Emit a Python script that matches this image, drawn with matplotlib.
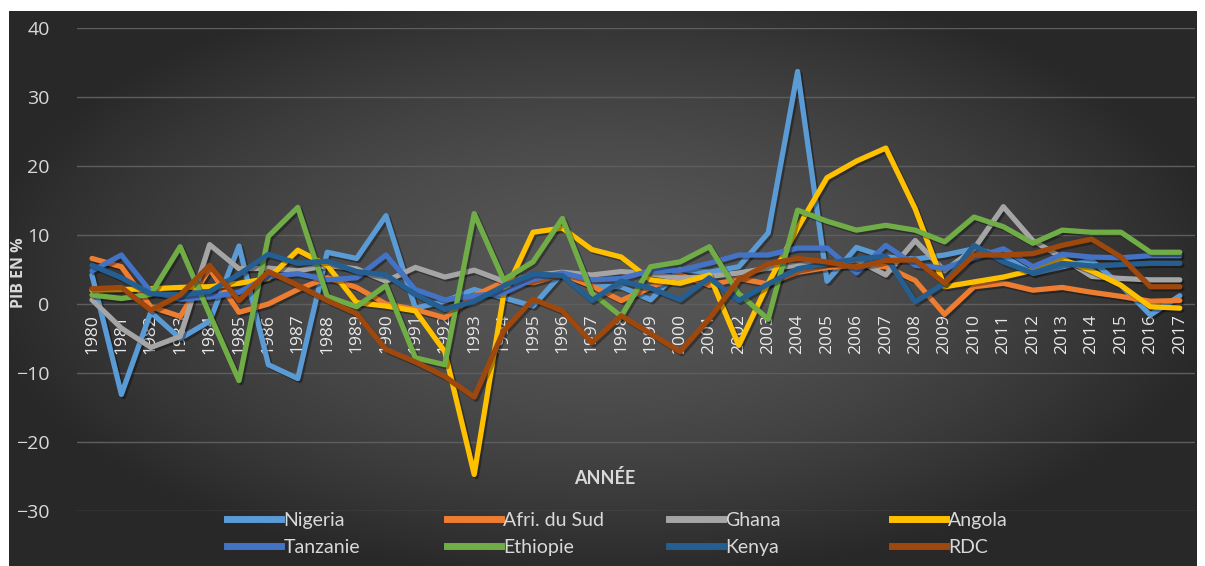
import numpy as np
import matplotlib
matplotlib.use("Agg")
import matplotlib.pyplot as plt
import matplotlib.patheffects as pe
from matplotlib.lines import Line2D

years = list(range(1980, 2018))

nigeria = [4.2, -13.1, -1.2, -5.0, -2.5, 8.4, -8.8, -10.8, 7.5, 6.6,
           12.8, -0.6, 0.4, 2.1, 0.9, -0.3, 4.5, 2.6, 2.5, 0.6,
           5.0, 4.6, 5.4, 10.3, 33.7, 3.3, 8.2, 6.8, 6.5, 7.1,
           8.0, 7.0, 4.4, 5.4, 6.3, 2.7, -1.6, 1.2]
afrique_sud = [6.6, 5.4, -0.4, -1.8, 5.1, -1.2, 0.0, 2.1, 3.8, 2.4,
               0.0, -0.8, -2.0, 1.2, 3.2, 3.1, 4.3, 2.6, 0.5, 2.4,
               4.2, 2.7, 3.7, 2.9, 4.6, 5.3, 5.6, 5.4, 3.4, -1.5,
               2.5, 3.0, 2.0, 2.4, 1.7, 1.1, 0.4, 0.5]
ghana = [0.6, -3.5, -6.3, -4.7, 8.6, 5.1, 5.2, 4.8, 5.6, 5.1,
         3.3, 5.3, 3.9, 4.9, 3.3, 4.1, 4.6, 4.2, 4.7, 4.4,
         3.7, 4.0, 4.5, 5.2, 5.6, 5.9, 6.4, 4.2, 9.2, 4.8,
         8.0, 14.1, 9.2, 6.7, 4.0, 3.7, 3.5, 3.5]
angola = [2.0, 2.1, 2.2, 2.4, 2.5, 3.0, 3.7, 7.8, 5.6, 0.2,
          -0.3, -1.0, -6.9, -24.7, 1.3, 10.4, 11.0, 7.9, 6.8, 3.5,
          3.0, 4.2, -6.0, 3.0, 11.0, 18.3, 20.7, 22.6, 13.8, 2.5,
          3.2, 3.9, 4.9, 6.5, 4.8, 2.7, -0.4, -0.6]
tanzanie = [4.8, 7.1, 1.8, 0.7, 1.0, 1.7, 4.0, 4.4, 3.5, 3.8,
            7.1, 2.1, 0.6, 1.2, 1.6, 3.6, 4.5, 3.5, 3.7, 4.8,
            4.9, 5.9, 7.1, 7.1, 8.1, 8.1, 4.5, 8.5, 5.6, 5.2,
            6.7, 8.0, 5.4, 7.2, 6.8, 6.7, 7.0, 7.0]
ethiopie = [1.3, 0.8, 1.4, 8.3, -1.5, -11.1, 9.8, 14.0, 1.1, -0.4,
            2.7, -7.8, -8.8, 13.1, 3.5, 6.1, 12.4, 1.6, -1.8, 5.4,
            6.1, 8.3, 1.5, -2.2, 13.6, 12.0, 10.7, 11.4, 10.7, 9.0,
            12.6, 11.2, 8.8, 10.7, 10.4, 10.4, 7.5, 7.5]
kenya = [5.6, 3.8, 1.5, 1.3, 1.8, 4.3, 7.2, 5.9, 6.2, 4.7,
         4.2, 1.4, -0.8, 0.4, 2.6, 4.4, 4.1, 0.5, 3.3, 2.3,
         0.6, 3.8, 0.5, 2.9, 5.1, 5.9, 6.5, 6.9, 0.3, 3.0,
         8.5, 6.1, 4.5, 5.9, 5.5, 5.7, 5.9, 5.9]
rdc = [2.2, 2.4, -0.9, 1.3, 5.6, 0.5, 4.7, 2.7, 0.5, -1.4,
       -6.6, -8.4, -10.5, -13.5, -3.9, 0.7, -1.0, -5.6, -1.7, -4.3,
       -6.9, -2.1, 3.5, 5.8, 6.6, 6.1, 5.3, 6.3, 6.4, 3.0,
       7.1, 7.1, 7.3, 8.5, 9.4, 6.8, 2.5, 2.5]

names = ["Nigeria", "Afri. du Sud", "Ghana", "Angola",
         "Tanzanie", "Ethiopie", "Kenya", "RDC"]
series = [nigeria, afrique_sud, ghana, angola, tanzanie, ethiopie, kenya, rdc]
colors = ["#5B9BD5", "#ED7D31", "#A5A5A5", "#FFC000",
          "#4472C4", "#70AD47", "#255E91", "#9E480E"]

W, H = 1205, 566
fig = plt.figure(figsize=(W / 100, H / 100), dpi=100)
fig.patch.set_facecolor("white")

# dark radial-gradient panel behind the chart
bg = fig.add_axes([9 / W, 0, (1197 - 9) / W, 1 - 11 / H])
bg.set_axis_off()
gx, gy = np.meshgrid(np.linspace(-1, 1, 400), np.linspace(-1, 1, 200))
r = np.clip(np.sqrt((gx / 1.05) ** 2 + ((gy + 0.05) / 1.1) ** 2), 0, 1)
shade = 0.34 - 0.18 * r ** 1.6
bg.imshow(np.dstack([shade] * 3), aspect="auto", extent=(0, 1, 0, 1), interpolation="bilinear")

ax = fig.add_axes([77.3 / W, 1 - 511 / H, (1194.5 - 77.3) / W, (511 - 28) / H])
ax.set_facecolor("none")

x = np.arange(len(years))
shadow = [pe.SimpleLineShadow(offset=(1.5, -1.5), shadow_color="black", alpha=0.35), pe.Normal()]
for vals, col in zip(series, colors):
    ax.plot(x, vals, color=col, lw=3.8, solid_joinstyle="round", solid_capstyle="round",
            path_effects=shadow)

ax.set_xlim(-0.5, len(years) - 0.5)
ax.set_ylim(-30, 40)
ax.set_yticks(range(-30, 41, 10))
ax.grid(axis="y", color="#5E5E5E", lw=1)
ax.set_axisbelow(True)
for s in ax.spines.values():
    s.set_visible(False)
ax.spines["bottom"].set_position(("data", 0))

ax.set_xticks(x)
ax.set_xticklabels([str(y) for y in years], rotation=90, fontsize=12.5,
                   family="Open Sans", color="#E8E8E8")
ax.tick_params(axis="x", length=0, pad=7)
ax.tick_params(axis="y", length=0, pad=20, labelsize=14, labelcolor="#D9D9D9")
for lab in ax.get_yticklabels():
    lab.set_family("Open Sans")

fig.text(19 / W, 1 - 273 / H, "PIB EN %", rotation=90, ha="center", va="center",
         fontsize=11.5, fontweight="bold", family="Open Sans", color="#D9D9D9")
fig.text(605 / W, 1 - 478 / H, "ANNÉE", ha="center", va="center",
         fontsize=13, fontweight="bold", family="Lato", color="#D9D9D9")

# legend: four columns of two rows each
col_x = [227, 447, 669, 892]
for c in range(4):
    hs = [Line2D([], [], color=colors[c], lw=5), Line2D([], [], color=colors[c + 4], lw=5)]
    fig.legend(hs, [names[c], names[c + 4]], loc="upper left",
               bbox_to_anchor=(col_x[c] / W, 1 - 512 / H), frameon=False,
               prop={"family": "Lato", "size": 14}, labelcolor="#D9D9D9",
               handlelength=2.8, handletextpad=0.1, labelspacing=0.5,
               borderpad=0, borderaxespad=0)

fig.savefig("out.png", dpi=100)
